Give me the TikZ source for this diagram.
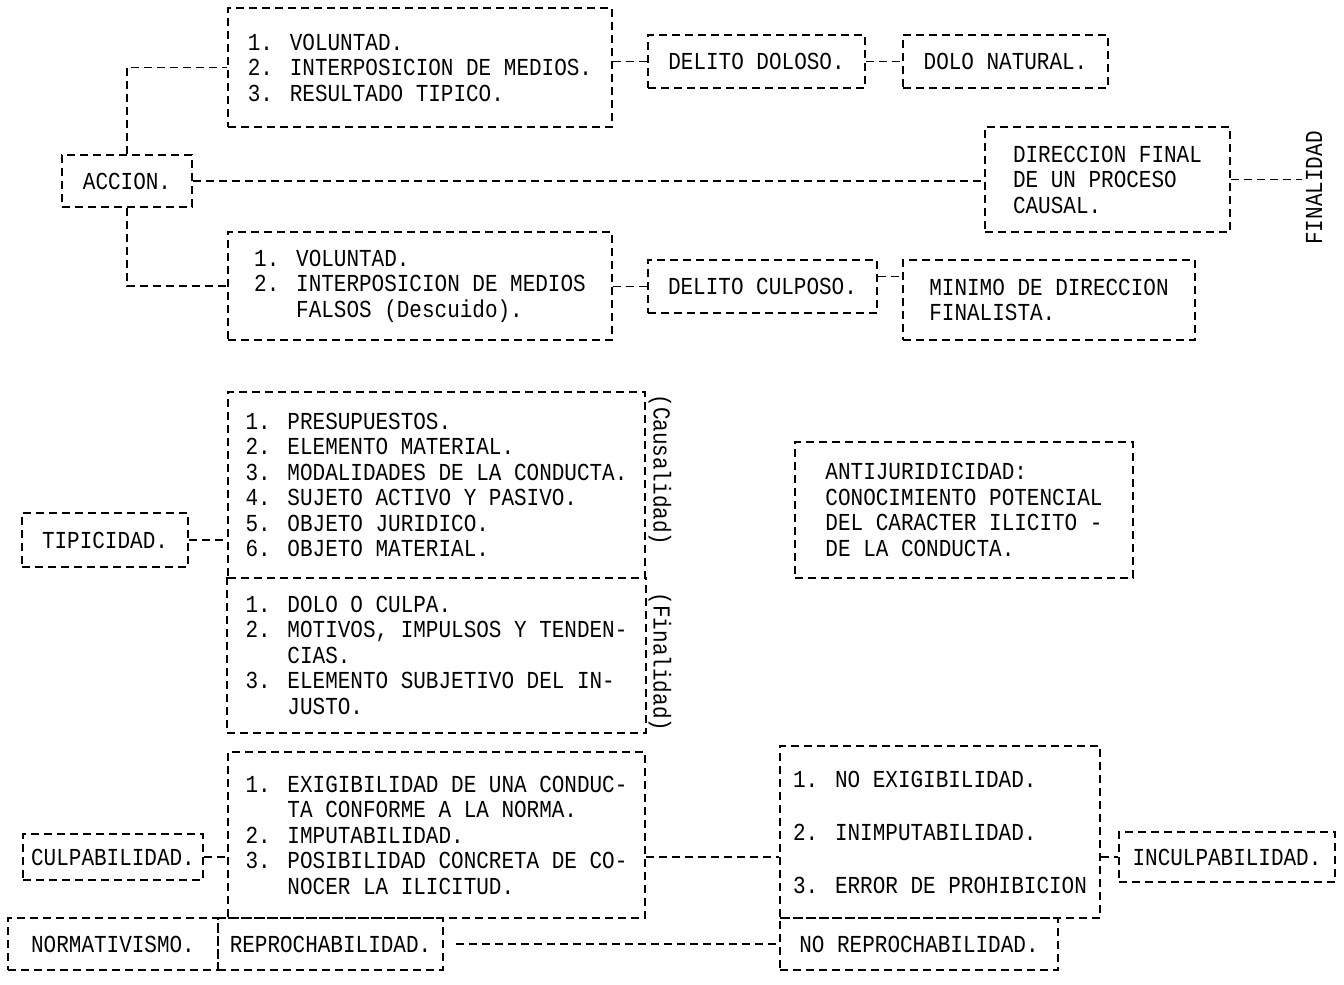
\documentclass[tikz,border=0pt]{standalone}
\usepackage{fontspec}
\newfontfamily\maq{Liberation Mono}[FakeStretch=0.86]
\usetikzlibrary{calc}

\begin{document}
\begin{tikzpicture}[x=1pt, y=-1pt, line width=1.8pt, line cap=butt,
  trazo/.style={dash pattern=on 8pt off 5pt},
  letra/.style={font=\maq\fontsize{24.4}{25.5}\selectfont},
  caja/.style={draw, trazo, letra, rectangle, inner sep=0pt, align=left}]
  \useasboundingbox (0,0) rectangle (1344,985);

  % Accion and its two branches.
  \node[caja, minimum width=130pt, minimum height=52pt] (accion) at (127,181) {ACCION.};
  \node[caja, minimum width=384pt, minimum height=119pt] (vol1) at (420,67.5)
    {1. VOLUNTAD.\\2. INTERPOSICION DE MEDIOS.\\3. RESULTADO TIPICO.};
  \node[caja, minimum width=384pt, minimum height=108pt] (vol2) at (420,286)
    {1. VOLUNTAD.\\2. INTERPOSICION DE MEDIOS\\\phantom{2. }FALSOS (Descuido).};
  \node[caja, minimum width=217pt, minimum height=53pt] (doloso) at (756.5,61.5) {DELITO DOLOSO.};
  \node[caja, minimum width=205pt, minimum height=53pt] (dolonat) at (1005.5,61.5) {DOLO NATURAL.};
  \node[caja, minimum width=229pt, minimum height=53pt] (culposo) at (762.5,286.5) {DELITO CULPOSO.};
  \node[caja, minimum width=292pt, minimum height=80pt] (minimo) at (1049,300)
    {MINIMO DE DIRECCION\\FINALISTA.};
  \node[caja, minimum width=245pt, minimum height=105pt] (direc) at (1107.5,179.5)
    {DIRECCION FINAL\\DE UN PROCESO\\CAUSAL.};
  \node[letra, rotate=90] (final) at (1314,188) {FINALIDAD};

  \draw[trazo] (accion.north) |- (vol1.west);
  \draw[trazo] (accion.south) |- (vol2.west);
  \draw[trazo] (accion.east) -- (accion.east -| direc.west);
  \draw[trazo] (direc.east) -- (direc.east -| final.north);
  \draw[trazo] (vol1.east |- doloso.west) -- (doloso.west);
  \draw[trazo] (doloso.east) -- (dolonat.west);
  \draw[trazo] (vol2.east |- culposo.west) -- (culposo.west);
  \draw[trazo] ([yshift=10pt]culposo.east) -- ([yshift=10pt]culposo.east -| minimo.west);

  % Tipicidad.
  \node[caja, minimum width=166pt, minimum height=54pt] (tipic) at (105,540) {TIPICIDAD.};
  \node[caja, minimum width=417pt, minimum height=186pt] (causal) at (436.5,485)
    {1. PRESUPUESTOS.\\2. ELEMENTO MATERIAL.\\3. MODALIDADES DE LA CONDUCTA.\\
     4. SUJETO ACTIVO Y PASIVO.\\5. OBJETO JURIDICO.\\6. OBJETO MATERIAL.};
  \node[caja, draw=none, minimum width=417pt, minimum height=154pt] (finali) at (436.5,655)
    {1. DOLO O CULPA.\\2. MOTIVOS, IMPULSOS Y TENDEN-\\\phantom{2. }CIAS.\\
     3. ELEMENTO SUBJETIVO DEL IN-\\\phantom{3. }JUSTO.};
  % lower half shares its top side with the upper one
  \draw[trazo] (finali.north west) |- (finali.south east) -- (finali.north east);
  \node[letra, rotate=-90] (causlab) at (660,470) {(Causalidad)};
  \node[letra, rotate=-90] (finlab) at (660,662) {(Finalidad)};
  \draw[trazo] (tipic.east) -- (tipic.east -| causal.west);

  \node[caja, minimum width=338pt, minimum height=136pt] (antij) at (964,510)
    {ANTIJURIDICIDAD:\\CONOCIMIENTO POTENCIAL\\DEL CARACTER ILICITO -\\DE LA CONDUCTA.};

  % Culpabilidad against inculpabilidad.
  \node[caja, minimum width=180pt, minimum height=46pt] (culpab) at (113,857) {CULPABILIDAD.};
  \node[caja, minimum width=417pt, minimum height=166pt] (exig) at (436.5,835)
    {1. EXIGIBILIDAD DE UNA CONDUC-\\\phantom{1. }TA CONFORME A LA NORMA.\\2. IMPUTABILIDAD.\\
     3. POSIBILIDAD CONCRETA DE CO-\\\phantom{3. }NOCER LA ILICITUD.};
  \node[caja, minimum width=210pt, minimum height=52pt] (normat) at (113,944) {NORMATIVISMO.};
  \node[caja, minimum width=225pt, minimum height=52pt] (reproch) at (330.5,944) {REPROCHABILIDAD.};
  \node[caja, minimum width=320pt, minimum height=172pt] (noexig) at (940,832)
    {1. NO EXIGIBILIDAD.\\[27.5pt]2. INIMPUTABILIDAD.\\[27.5pt]3. ERROR DE PROHIBICION};
  \node[caja, minimum width=278pt, minimum height=52pt] (noreproch) at (919,944) {NO REPROCHABILIDAD.};
  \node[caja, minimum width=216pt, minimum height=50pt] (inculp) at (1227,857) {INCULPABILIDAD.};

  \draw[trazo] (culpab.east) -- (culpab.east -| exig.west);
  \draw[trazo] (exig.east |- inculp.west) -- (noexig.west |- inculp.west);
  \draw[trazo] (noexig.east |- inculp.west) -- (inculp.west);
  \draw[trazo, shorten <=12pt] (reproch.east) -- (noreproch.west);
\end{tikzpicture}
\end{document}
